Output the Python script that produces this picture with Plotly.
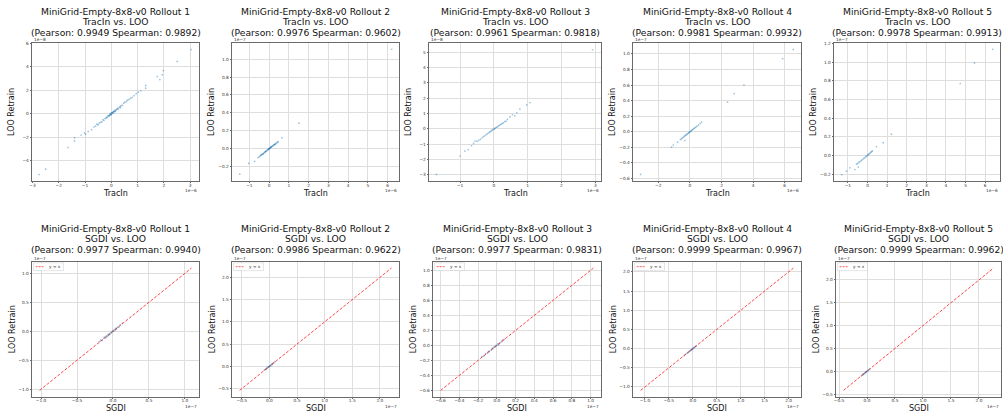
import plotly.graph_objects as go

W, H = 1003, 414

# ---------------- data ----------------
env_name = "MiniGrid-Empty-8x8-v0"
rollout_ids = [1, 2, 3, 4, 5]
tracin_pearson = [0.9949, 0.9976, 0.9961, 0.9981, 0.9978]
tracin_spearman = [0.9892, 0.9602, 0.9818, 0.9932, 0.9913]
sgdi_pearson = [0.9977, 0.9986, 0.9977, 0.9999, 0.9999]
sgdi_spearman = [0.9940, 0.9622, 0.9831, 0.9967, 0.9962]

# TracIn scores (units of 1e-6) and LOO retrain scores (units in top_y_exp)
tracin_1 = [3.04, 2.51, 1.98, 1.94, 1.75, 1.85, 1.31, 1.31, 1.12, 1.03,
            0.95, 0.87, 0.80, 0.74, 0.68, 0.62, 0.58, 0.52, 0.47, 0.43,
            0.38, 0.34, 0.30, 0.27, 0.24, 0.20, 0.17, 0.14, 0.11, 0.08,
            0.06, 0.04, 0.02, 0.00, -0.02, -0.04, -0.07, -0.10, -0.13, -0.16,
            -0.20, -0.24, -0.28, -0.32, -0.36, -0.41, -0.46, -0.50, -0.55, -0.60,
            -0.66, -0.75, -0.88, -0.98, -1.02, -1.15, -1.40, -1.40, -1.65, -2.50,
            -2.75, 0.10, 0.05, -0.05, 0.15, 0.22, -0.18, -0.08, 0.35, 0.01, -0.01]
loo_t1 = [5.44, 4.44, 3.67, 3.30, 3.16, 2.90, 2.40, 2.17, 1.95, 1.83,
          1.70, 1.54, 1.40, 1.32, 1.22, 1.17, 1.05, 0.98, 0.90, 0.72,
          0.70, 0.62, 0.55, 0.38, 0.47, 0.36, 0.28, 0.30, 0.18, 0.16,
          0.05, 0.10, 0.02, -0.04, 0.03, -0.10, -0.12, -0.20, -0.16, -0.32,
          -0.36, -0.40, -0.55, -0.50, -0.68, -0.72, -0.80, -0.95, -0.88, -1.05,
          -1.12, -1.35, -1.50, -1.72, -1.62, -1.80, -2.05, -2.30, -2.86, -4.70,
          -5.15, 0.22, 0.12, -0.02, 0.20, 0.42, -0.28, -0.18, 0.52, 0.08, -0.07]

tracin_2 = [6.21, 1.51, 0.65, 0.46, 0.42, 0.38, 0.34, 0.30, 0.27, 0.24,
            0.21, 0.18, 0.15, 0.12, 0.09, 0.07, 0.05, 0.03, 0.01, -0.01,
            -0.03, -0.05, -0.08, -0.11, -0.14, -0.17, -0.20, -0.24, -0.28, -0.32,
            -0.36, -0.40, -0.45, -0.50, -0.56, -0.73, -1.03, -1.49,
            0.10, -0.20, 0.30, -0.40, 0.00, -0.30]
loo_t2 = [1.11, 0.285, 0.123, 0.079, 0.072, 0.066, 0.058, 0.052, 0.047, 0.041,
          0.038, 0.031, 0.027, 0.020, 0.017, 0.011, 0.009, 0.004, 0.002, -0.003,
          -0.006, -0.008, -0.015, -0.019, -0.026, -0.030, -0.037, -0.043, -0.051, -0.058,
          -0.064, -0.072, -0.080, -0.091, -0.098, -0.140, -0.164, -0.284,
          0.022, -0.032, 0.050, -0.066, 0.004, -0.056]

tracin_3 = [2.92, 1.07, 0.97, 0.77, 0.68, 0.62, 0.55, 0.48, 0.40, 0.36,
            0.32, 0.28, 0.25, 0.22, 0.19, 0.16, 0.13, 0.10, 0.07, 0.04,
            0.02, 0.00, -0.03, -0.06, -0.09, -0.12, -0.15, -0.19, -0.23, -0.27,
            -0.31, -0.35, -0.40, -0.45, -0.50, -0.56, -0.60, -0.66, -0.76, -0.86,
            -1.00, -1.70]
loo_t3 = [5.16, 1.72, 1.57, 1.29, 1.05, 0.85, 0.92, 0.78, 0.62, 0.50,
          0.48, 0.40, 0.36, 0.30, 0.28, 0.22, 0.18, 0.12, 0.10, 0.05,
          0.01, -0.02, -0.05, -0.10, -0.15, -0.20, -0.25, -0.31, -0.38, -0.45,
          -0.50, -0.58, -0.68, -0.75, -0.82, -0.79, -0.95, -1.10, -1.35, -1.45,
          -1.77, -2.97]

tracin_4 = [6.54, 5.87, 3.42, 2.80, 2.38, 0.74, 0.65, 0.55, 0.45, 0.38,
            0.32, 0.26, 0.20, 0.15, 0.10, 0.06, 0.02, -0.02, -0.06, -0.10,
            -0.15, -0.20, -0.25, -0.32, -0.30, -0.36, -0.42, -0.48, -0.53, -0.60,
            -0.78, -1.05, -1.16, -3.12]
loo_t4 = [1.058, 0.94, 0.60, 0.49, 0.38, 0.124, 0.105, 0.085, 0.072, 0.060,
          0.052, 0.043, 0.033, 0.025, 0.016, 0.009, 0.003, -0.004, -0.010, -0.017,
          -0.025, -0.034, -0.041, -0.112, -0.050, -0.059, -0.070, -0.080, -0.090, -0.100,
          -0.134, -0.170, -0.198, -0.547]

tracin_5 = [6.39, 5.46, 4.73, 1.22, 0.80, 0.46, 0.25, 0.21, 0.17, 0.13,
            0.09, 0.05, 0.02, -0.02, -0.06, -0.10, -0.15, -0.20, -0.26, -0.32,
            -0.38, -0.44, -0.50, -0.56, -0.47, -0.64, -0.90, -1.07, -1.32]
loo_t5 = [1.137, 0.99, 0.77, 0.227, 0.136, 0.094, 0.047, 0.040, 0.032, 0.025,
          0.017, 0.010, 0.004, -0.003, -0.010, -0.018, -0.026, -0.035, -0.045, -0.056,
          -0.066, -0.076, -0.086, -0.095, -0.126, -0.152, -0.134, -0.170, -0.206]

# SGDI scores and LOO retrain scores (units of 1e-7)
sgdi_1 = [-0.19, -0.17, -0.15, -0.13, -0.12, -0.10, -0.09, -0.08, -0.07, -0.06,
          -0.05, -0.04, -0.03, -0.02, -0.01, 0.00, 0.01, 0.02, 0.03, 0.04,
          0.05, 0.06, 0.08, 0.10, 0.13]
loo_s1 = [-0.18, -0.15, -0.16, -0.12, -0.10, -0.11, -0.08, -0.09, -0.06, -0.07,
          -0.04, -0.05, -0.02, -0.03, 0.00, 0.01, 0.00, 0.03, 0.02, 0.05,
          0.04, 0.07, 0.07, 0.11, 0.14]
sgdi_2 = [-0.09, -0.07, -0.06, -0.05, -0.04, -0.03, -0.02, -0.01, 0.00, 0.01,
          0.02, 0.03, 0.04, 0.05, 0.06, 0.08, 0.10]
loo_s2 = [-0.08, -0.07, -0.05, -0.05, -0.03, -0.03, -0.01, -0.01, 0.00, 0.02,
          0.01, 0.03, 0.05, 0.04, 0.07, 0.08, 0.11]
sgdi_3 = [-0.16, -0.14, -0.12, -0.10, -0.09, -0.08, -0.06, -0.05, -0.04, -0.03,
          -0.02, -0.01, 0.00, 0.01, 0.02, 0.03, 0.05, 0.06, 0.08]
loo_s3 = [-0.15, -0.14, -0.11, -0.10, -0.08, -0.08, -0.06, -0.04, -0.04, -0.02,
          -0.02, 0.00, 0.00, 0.02, 0.01, 0.03, 0.05, 0.07, 0.08]
sgdi_4 = [-0.18, -0.15, -0.12, -0.10, -0.08, -0.06, -0.05, -0.04, -0.03, -0.02,
          -0.01, 0.00, 0.01, 0.02, 0.03, 0.05, 0.07]
loo_s4 = [-0.18, -0.15, -0.12, -0.10, -0.08, -0.06, -0.05, -0.04, -0.03, -0.02,
          -0.01, 0.00, 0.01, 0.02, 0.03, 0.05, 0.07]
sgdi_5 = [-0.10, -0.08, -0.07, -0.06, -0.05, -0.04, -0.03, -0.02, -0.01, 0.00,
          0.01, 0.02, 0.03, 0.05]
loo_s5 = [-0.10, -0.08, -0.07, -0.06, -0.05, -0.04, -0.03, -0.02, -0.01, 0.00,
          0.01, 0.02, 0.03, 0.05]

# y = x reference line extent (units of 1e-7)
diag_lo = [-1.02, -0.54, -0.60, -1.09, -0.42]
diag_hi = [1.09, 2.21, 1.03, 2.10, 2.26]

top_x = [tracin_1, tracin_2, tracin_3, tracin_4, tracin_5]
top_y = [loo_t1, loo_t2, loo_t3, loo_t4, loo_t5]
bot_x = [sgdi_1, sgdi_2, sgdi_3, sgdi_4, sgdi_5]
bot_y = [loo_s1, loo_s2, loo_s3, loo_s4, loo_s5]
top_x_exp = ["1e\u22126"] * 5
top_y_exp = ["1e\u22128", "1e\u22127", "1e\u22128", "1e\u22127", "1e\u22127"]
bot_exp = ["1e\u22127"] * 5

for a, b in zip(top_x + bot_x, top_y + bot_y):
    assert len(a) == len(b)

# ---------------- layout config ----------------
top_boxes = [(32, 199, 43, 181), (232, 399, 43, 181), (429, 601, 43, 181),
             (633, 801, 43, 181), (834, 1000, 43, 181)]
bot_boxes = [(32, 199, 262, 396.5), (232, 399, 262, 396.5), (433, 601, 262, 396.5),
             (633, 801, 262, 396.5), (836, 1001, 262, 396.5)]
top_xrange = [[-3.02, 3.34], [-1.88, 6.58], [-1.92, 3.17], [-3.6, 7.03], [-1.71, 6.76]]
top_yrange = [[-5.70, 6.0], [-0.36, 1.18], [-3.40, 5.60], [-0.632, 1.14], [-0.275, 1.204]]
top_xdtick = [1, 1, 1, 2, 1]
top_ydtick = [2, 0.2, 1, 0.2, 0.2]
top_yfmt = ["", ".1f", "", ".1f", ".1f"]
bot_dtick = [0.5, 0.5, 0.2, 0.5, 0.5]

FONT = "DejaVu Sans"
TICKFONT = dict(family=FONT, size=4.3, color="#333333")
SPINE = "#6a6a6a"
GRID = "#dedede"
BLUE = "rgba(31,119,180,0.45)"
RED = "rgba(255,0,0,0.8)"
TITLE_SIZE = 9.2
LABEL_SIZE = 8.0


def fx(px):
    return px / W


def fy(py):
    return 1 - py / H


fig = go.Figure()
layout = dict(width=W, height=H, margin=dict(l=0, r=0, t=0, b=0),
              paper_bgcolor="white", plot_bgcolor="white", showlegend=False,
              font=dict(family=FONT, color="#222222"))
annotations = []
shapes = []


def axis(dom, rng, dtick, fmt, anchor, standoff):
    return dict(domain=dom, range=rng, tickmode="linear", tick0=0, dtick=dtick,
                tickformat=fmt, showgrid=True, gridcolor=GRID, gridwidth=0.7,
                zeroline=False, showline=True, mirror=True, linecolor=SPINE,
                linewidth=0.8, ticks="outside", ticklen=1.5, tickwidth=0.6,
                tickcolor=SPINE, tickfont=TICKFONT, anchor=anchor,
                ticklabelstandoff=standoff,
                fixedrange=True, automargin=False)


for i in range(10):
    row, col = divmod(i, 5)
    n = i + 1
    xs = "" if n == 1 else str(n)
    xref, yref = "x" + xs, "y" + xs
    if row == 0:
        l, r, t, b = top_boxes[col]
        xr, yr = top_xrange[col], top_yrange[col]
        xdt, ydt = top_xdtick[col], top_ydtick[col]
        xfmt, yfmt = "", top_yfmt[col]
        xs_data, ys_data = top_x[col], top_y[col]
        method = "TracIn"
        pear, spear = tracin_pearson[col], tracin_spearman[col]
        xexp, yexp = top_x_exp[col], top_y_exp[col]
    else:
        l, r, t, b = bot_boxes[col]
        lo, hi = diag_lo[col], diag_hi[col]
        pad = 0.05 * (hi - lo)
        xr = yr = [lo - pad, hi + pad]
        xdt = ydt = bot_dtick[col]
        xfmt = yfmt = ".1f"
        xs_data, ys_data = bot_x[col], bot_y[col]
        method = "SGDI"
        pear, spear = sgdi_pearson[col], sgdi_spearman[col]
        xexp = yexp = bot_exp[col]

    layout["xaxis" + xs] = axis([fx(l), fx(r)], xr, xdt, xfmt, yref, -2)
    layout["yaxis" + xs] = axis([fy(b), fy(t)], yr, ydt, yfmt, xref, 0)

    fig.add_trace(go.Scatter(x=xs_data, y=ys_data, mode="markers",
                             marker=dict(size=1.7, color=BLUE, line=dict(width=0)),
                             xaxis=xref, yaxis=yref, hoverinfo="skip"))
    if row == 1:
        fig.add_trace(go.Scatter(x=[diag_lo[col], diag_hi[col]],
                                 y=[diag_lo[col], diag_hi[col]], mode="lines",
                                 line=dict(color=RED, width=0.9, dash="3px,1.6px"),
                                 xaxis=xref, yaxis=yref, hoverinfo="skip"))
        # legend box "y = x"
        shapes.append(dict(type="rect", xref="paper", yref="paper",
                           x0=fx(l + 1.6), x1=fx(l + 31.5), y0=fy(t + 8.6), y1=fy(t + 0.8),
                           line=dict(color="#cccccc", width=0.5),
                           fillcolor="rgba(255,255,255,0.85)", layer="above"))
        shapes.append(dict(type="line", xref="paper", yref="paper",
                           x0=fx(l + 3.6), x1=fx(l + 12.6), y0=fy(t + 4.7), y1=fy(t + 4.7),
                           line=dict(color=RED, width=0.8, dash="2px,1px"), layer="above"))
        annotations.append(dict(text="y = x", x=fx(l + 14.6), y=fy(t + 4.7),
                                xref="paper", yref="paper", xanchor="left", yanchor="middle",
                                showarrow=False, font=dict(family=FONT, size=4.3, color="#333333")))

    cx = (l + r) / 2
    base = 11 if row == 0 else 228.3
    lines = [f"{env_name} Rollout {rollout_ids[col]}",
             f"{method} vs. LOO",
             f"(Pearson: {pear:.4f} Spearman: {spear:.4f})"]
    for k, txt in enumerate(lines):
        annotations.append(dict(text=txt, x=fx(cx), y=fy(base + k * 10.6),
                                xref="paper", yref="paper", xanchor="center",
                                yanchor="middle", showarrow=False,
                                font=dict(family=FONT, size=TITLE_SIZE, color="#111111")))
    # axis titles
    annotations.append(dict(text=method, x=fx(cx), y=fy(b + 12), xref="paper", yref="paper",
                            xanchor="center", yanchor="middle", showarrow=False,
                            font=dict(family=FONT, size=LABEL_SIZE, color="#111111")))
    annotations.append(dict(text="LOO Retrain", x=fx(l - 20), y=fy((t + b) / 2),
                            xref="paper", yref="paper", xanchor="center", yanchor="middle",
                            textangle=-90, showarrow=False,
                            font=dict(family=FONT, size=LABEL_SIZE, color="#111111")))
    # offset (scale) texts
    annotations.append(dict(text=yexp, x=fx(l), y=fy(t - 3.6), xref="paper", yref="paper",
                            xanchor="left", yanchor="middle", showarrow=False,
                            font=dict(family=FONT, size=4.3, color="#333333")))
    annotations.append(dict(text=xexp, x=fx(r), y=fy(b + 9.6), xref="paper", yref="paper",
                            xanchor="right", yanchor="middle", showarrow=False,
                            font=dict(family=FONT, size=4.3, color="#333333")))

layout["annotations"] = annotations
layout["shapes"] = shapes
fig.update_layout(**layout)
fig.write_html("out.html", config={"displayModeBar": False},
               post_script="document.body.style.margin='0';document.body.style.overflow='hidden';")
